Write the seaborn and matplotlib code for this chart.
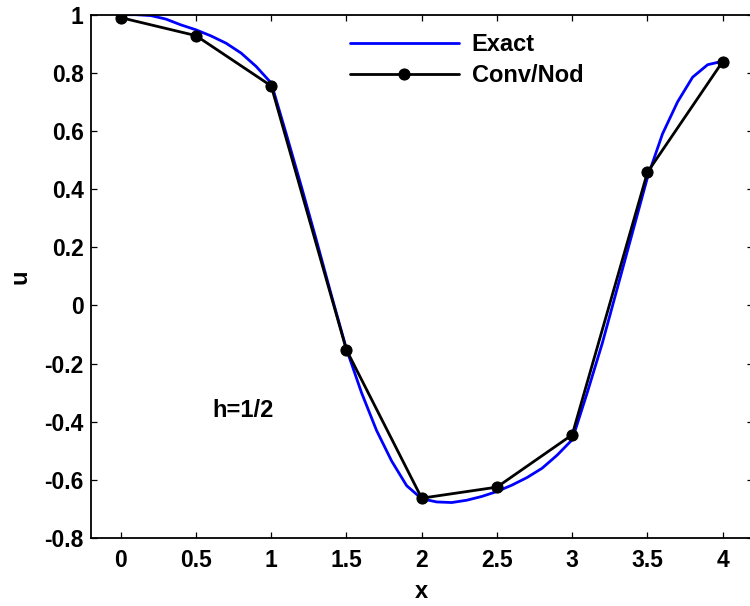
import numpy as np
import pandas as pd
import matplotlib
matplotlib.use("Agg")
import matplotlib.pyplot as plt
import seaborn as sns

# ---- data ----
exact_x = [0.0, 0.1, 0.2, 0.3, 0.4, 0.5, 0.6, 0.7, 0.8, 0.9, 1.0,
           1.1, 1.2, 1.3, 1.4, 1.5, 1.6, 1.7, 1.8, 1.9, 2.0,
           2.1, 2.2, 2.3, 2.4, 2.5, 2.6, 2.7, 2.8, 2.9, 3.0,
           3.1, 3.2, 3.3, 3.4, 3.5, 3.6, 3.7, 3.8, 3.9, 4.0]
exact_u = [1.000, 1.000, 0.997, 0.985, 0.965, 0.948, 0.927, 0.902, 0.868, 0.822, 0.765,
           0.590, 0.410, 0.225, 0.035, -0.150, -0.300, -0.430, -0.535, -0.620, -0.665,
           -0.676, -0.678, -0.670, -0.657, -0.640, -0.618, -0.592, -0.560, -0.515, -0.462,
           -0.300, -0.130, 0.060, 0.250, 0.440, 0.590, 0.700, 0.785, 0.828, 0.840]

nod_x = [0.0, 0.5, 1.0, 1.5, 2.0, 2.5, 3.0, 3.5, 4.0]
nod_u = [0.990, 0.928, 0.755, -0.153, -0.663, -0.625, -0.445, 0.458, 0.839]

xticks = [0, 0.5, 1, 1.5, 2, 2.5, 3, 3.5, 4]
xtick_labels = ["0", "0.5", "1", "1.5", "2", "2.5", "3", "3.5", "4"]
yticks = [-0.8, -0.6, -0.4, -0.2, 0, 0.2, 0.4, 0.6, 0.8, 1]
ytick_labels = ["-0.8", "-0.6", "-0.4", "-0.2", "0", "0.2", "0.4", "0.6", "0.8", "1"]

# ---- style ----
sns.set_theme(style="white")
plt.rcParams["font.family"] = ["Liberation Sans", "DejaVu Sans"]
plt.rcParams["font.weight"] = "bold"
plt.rcParams["axes.labelweight"] = "bold"
plt.rcParams["axes.unicode_minus"] = False
plt.rcParams["text.color"] = "black"
plt.rcParams["axes.labelcolor"] = "black"
plt.rcParams["xtick.color"] = "black"
plt.rcParams["ytick.color"] = "black"
plt.rcParams["axes.edgecolor"] = "black"

W, H = 750, 606
fig = plt.figure(figsize=(W / 100, H / 100), dpi=100)
left_px, right_px, top_px, bot_px = 90.6, 752.8, 14.7, 538.0
ax = fig.add_axes([left_px / W, 1 - bot_px / H, (right_px - left_px) / W, (bot_px - top_px) / H])

df_exact = pd.DataFrame({"x": exact_x, "u": exact_u})
df_nod = pd.DataFrame({"x": nod_x, "u": nod_u})

sns.lineplot(data=df_exact, x="x", y="u", ax=ax, color="#0000ff", linewidth=2.0,
             label="Exact", sort=False)
sns.lineplot(data=df_nod, x="x", y="u", ax=ax, color="black", linewidth=2.0,
             marker="o", markersize=8, markeredgecolor="black", markerfacecolor="black",
             label="Conv/Nod", sort=False)

ax.set_xlim(-0.2, 4.2)
ax.set_ylim(-0.8, 1.0)
ax.set_xticks(xticks)
ax.set_xticklabels(xtick_labels)
ax.set_yticks(yticks)
ax.set_yticklabels(ytick_labels)

for s in ax.spines.values():
    s.set_color("black")
    s.set_linewidth(1.3)
    s.set_visible(True)

ax.tick_params(axis="both", which="major", direction="in", length=4, width=0.9,
               top=True, right=True, bottom=True, left=True, labelsize=16.5,
               colors="black", labelcolor="black")
ax.tick_params(axis="x", pad=8)
ax.tick_params(axis="y", pad=5)
for t in ax.get_xticklabels() + ax.get_yticklabels():
    t.set_fontweight("bold")
    t.set_color("black")

ax.set_xlabel("x", fontsize=17, fontweight="bold", color="black")
ax.set_ylabel("u", fontsize=17, fontweight="bold", color="black")
ax.xaxis.label.set_va("center")
ax.yaxis.label.set_va("center")
ax.xaxis.set_label_coords(0.5, (bot_px - 591.7) / (bot_px - top_px))
ax.yaxis.set_label_coords((20 - left_px) / (right_px - left_px), 0.5)

ax.text(0.61, -0.36, "h=1/2", fontsize=17, fontweight="bold", ha="left", va="center",
        color="black")

leg = ax.legend(loc="upper left",
                bbox_to_anchor=((350 - left_px) / (right_px - left_px), (bot_px - 33) / (bot_px - top_px)),
                frameon=False, fontsize=17, handlelength=4.6, handletextpad=0.55,
                labelspacing=0.35, borderpad=0, borderaxespad=0, numpoints=1)
for t in leg.get_texts():
    t.set_fontweight("bold")
    t.set_color("black")

ax.grid(False)
fig.savefig("out.png", dpi=100, facecolor="white")
